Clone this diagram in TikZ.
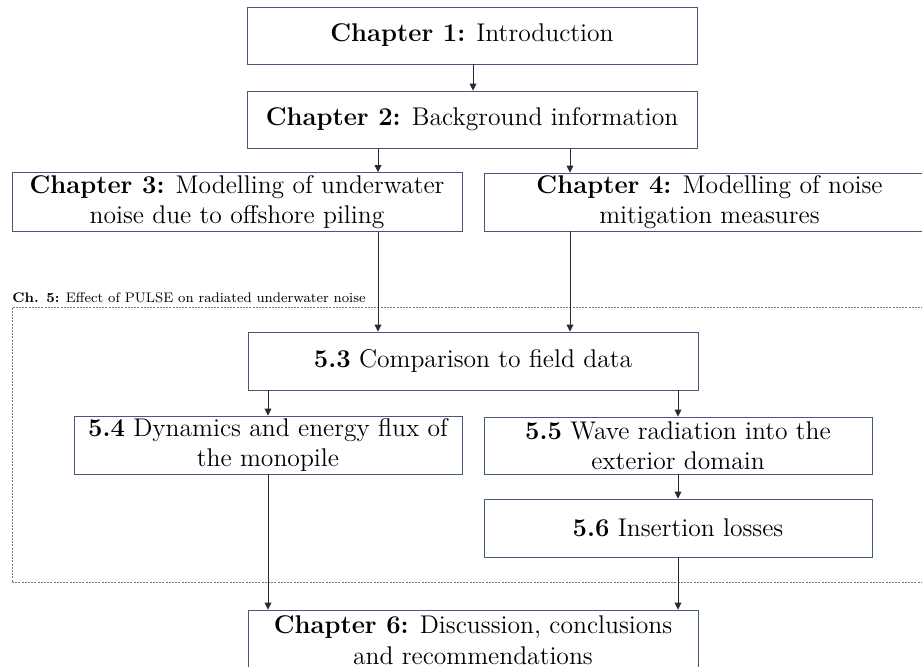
\documentclass[tikz,border=0pt]{standalone}
\usetikzlibrary{arrows.meta,calc}
\definecolor{boxc}{HTML}{45597A}
\definecolor{dashc}{HTML}{6A7A96}
\definecolor{arrc}{HTML}{2A2A2A}
\newcommand\mainfs{\fontsize{12.8}{15.2}\selectfont}
\newcommand\labfs{\fontsize{7.6}{9}\selectfont}
\begin{document}
\begin{tikzpicture}[x=0.5pt,y=-0.5pt,
  box/.style={draw=boxc,line width=0.45pt,inner sep=0pt,align=center,font=\mainfs,text=black},
  frame5/.style={draw=dashc,line width=0.5pt,dash pattern=on 1pt off 0.6pt,inner sep=0pt},
  arr/.style={draw=arrc,line width=0.5pt,-{Triangle[length=3.5pt,width=3.4pt]}}]
\useasboundingbox (0,0) rectangle (922,666);
\clip (0,0) rectangle (922,666);
% chapter 5 frame
\node[frame5,minimum width=461.5pt,minimum height=137.5pt] (f5) at (473.5,444.5) {};
\node[anchor=base west,inner sep=0pt,font=\labfs] (l5) at (12,302) {\scalebox{0.91}{\textbf{Ch. 5:} Effect of PULSE on radiated underwater noise}};
% boxes
\node[box,minimum width=225pt,minimum height=28.5pt] (c1) at (472,35.5) {\textbf{Chapter 1:} Introduction};
\node[box,minimum width=225pt,minimum height=28.5pt] (c2) at (472,119.5) {\textbf{Chapter 2:} Background information};
\node[box,minimum width=225pt,minimum height=29.5pt] (c3) at (237,202) {\textbf{Chapter 3:} Modelling of underwater\\noise due to offshore piling};
\node[box,minimum width=225.5pt,minimum height=29pt] (c4) at (709.5,202) {\textbf{Chapter 4:} Modelling of noise\\mitigation measures};
\node[box,minimum width=225pt,minimum height=29pt] (s3) at (473,361) {\textbf{5.3} Comparison to field data};
\node[box,minimum width=194pt,minimum height=29pt] (s4) at (268,445) {\textbf{5.4} Dynamics and energy flux of\\the monopile};
\node[box,minimum width=194pt,minimum height=28.5pt] (s5) at (678,445.5) {\textbf{5.5} Wave radiation into the\\exterior domain};
\node[box,minimum width=194pt,minimum height=29pt] (s6) at (678,528) {\textbf{5.6} Insertion losses};
\node[box,minimum width=225pt,minimum height=30pt] (c6) at (473,640) {\textbf{Chapter 6:} Discussion, conclusions\\and recommendations};
% connector columns
\coordinate (xa) at (473,0);
\coordinate (xb) at (378,0);
\coordinate (xc) at (570,0);
\coordinate (xd) at (268,0);
\coordinate (xe) at (678,0);
\draw[arr] (xa |- c1.south) -- (xa |- c2.north);
\draw[arr] (xb |- c2.south) -- (xb |- c3.north);
\draw[arr] (xc |- c2.south) -- (xc |- c4.north);
\draw[arr] (xb |- c3.south) -- (xb |- s3.north);
\draw[arr] (xc |- c4.south) -- (xc |- s3.north);
\draw[arr] (xd |- s3.south) -- (xd |- s4.north);
\draw[arr] (xe |- s3.south) -- (xe |- s5.north);
\draw[arr] (xe |- s5.south) -- (xe |- s6.north);
\draw[arr] (xd |- s4.south) -- (xd |- c6.north);
\draw[arr] (xe |- s6.south) -- (xe |- c6.north);
\end{tikzpicture}
\end{document}
